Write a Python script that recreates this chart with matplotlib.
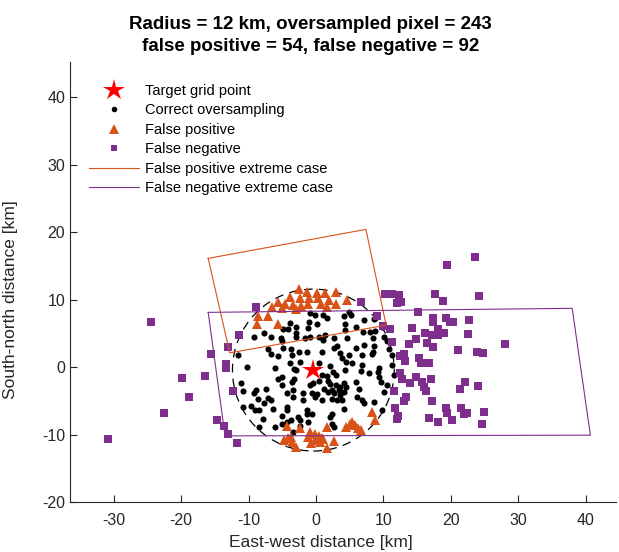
import numpy as np
import matplotlib.pyplot as plt
from matplotlib.patches import Circle
from matplotlib.lines import Line2D

plt.rcParams['font.family'] = ['Liberation Sans', 'DejaVu Sans']
plt.rcParams['axes.unicode_minus'] = False

# target grid point and oversampling radius (km)
target = (-0.4, -0.45)
radius = 12

# correct oversampling points (east, north) in km
correct_pts = [
    (-2.9, 6.0), (-4.15, 5.7), (-1.0, 6.6), (-1.2, 5.8), (-7.7, 5.0), (-9.2, 4.5), (-6.7, 4.4), (-5.2, 4.3),
    (-5.0, 3.9), (-2.9, 4.4), (-1.6, 4.3), (-7.2, 2.6), (-6.7, 2.0), (-5.6, 1.7), (-3.75, 2.6), (-3.5, 1.8),
    (-2.5, 2.3), (-1.3, 2.3), (-11.6, 1.8), (-3.9, 0.6), (-2.4, 0.7), (-10.2, 0.0), (-6.1, -0.2), (-3.2, -0.3),
    (1.1, 7.65), (1.6, 7.25), (4.1, 7.5), (4.9, 8.1), (5.25, 7.75), (4.3, 6.4), (0.15, 6.4), (1.4, 4.8),
    (0.4, 4.5), (2.6, 4.3), (3.1, 3.15), (2.6, 2.8), (4.35, 5.5), (6.0, 6.0), (7.1, 7.0), (8.6, 7.1),
    (8.8, 5.3), (7.1, 3.3), (8.6, 3.1), (9.8, 6.0), (10.05, 4.5), (10.5, 3.8), (10.8, 2.6), (11.2, 1.8),
    (6.8, 1.8), (3.6, 2.1), (3.9, 1.3), (4.9, 1.8), (4.4, 0.8), (5.35, 0.6), (6.8, 0.3), (0.4, 0.6),
    (2.1, 0.1), (9.3, -0.15), (11.2, 0.35),
    (-0.9, 7.95), (-0.15, 7.7), (-3.85, 6.5), (-4.85, 5.7), (-2.9, 5.0), (7.0, 5.2), (8.0, 5.2), (-0.9, 4.5),
    (1.1, 4.0), (4.55, 4.25), (8.5, 4.25), (-4.85, 2.8), (6.0, 2.8), (8.5, 2.3),
    (-2.9, -0.5), (-11.2, -2.4), (-10.8, -3.55), (-8.85, -3.35), (-9.2, -3.85), (-7.4, -3.2), (-8.6, -4.7),
    (-7.1, -4.55), (-6.7, -4.9), (-7.7, -5.3), (-10.8, -5.9), (-9.6, -5.8), (-9.1, -6.4), (-7.9, -7.65),
    (-6.4, -6.2), (-4.25, -3.85), (-3.4, -4.45), (-1.9, -4.9), (-0.9, -2.7), (-5.6, -1.7), (-5.0, -1.5),
    (-3.2, -1.7), (-4.25, -5.9), (-4.35, -6.3), (-2.65, -7.4), (-2.4, -7.9), (-1.4, -6.3), (-5.1, -7.2),
    (-5.1, -8.4), (-3.65, -7.9), (-1.2, -8.15), (-8.4, -8.9), (-6.1, -8.9), (-3.4, -9.6),
    (2.5, -0.75), (2.9, -1.2), (1.8, -2.0), (2.1, -2.5), (4.35, -0.5), (6.6, -0.6), (7.8, -0.9), (9.3, -1.5),
    (9.6, -2.2), (0.4, -2.0), (1.15, -3.2), (2.9, -2.7), (3.4, -3.45), (4.1, -3.7), (4.4, -3.0), (0.15, -3.95),
    (0.9, -4.9), (2.4, -4.7), (3.1, -4.9), (3.6, -4.2), (6.3, -3.2), (6.1, -4.45), (6.8, -4.9), (7.1, -5.4),
    (8.6, -5.2), (10.05, -3.7), (10.55, -2.7), (4.1, -6.2), (9.8, -6.4), (2.4, -8.4), (2.6, -8.9),
    (-3.6, -2.2), (-3.35, -3.4), (-1.9, -3.9), (-0.64, -3.9), (-0.15, -4.4), (-0.4, -2.4), (0.84, -1.2),
    (1.6, -1.4), (2.3, -3.4), (1.8, -3.65), (2.6, -3.9), (3.6, -2.9), (4.1, -2.4), (3.8, -4.9), (6.0, -2.2),
    (9.25, -0.7), (11.5, -1.2), (8.3, 2.0), (0.84, 2.27), (-8.5, -6.4), (-5.1, -2.7), (-4.35, -8.1),
    (-2.4, -8.8), (-0.64, -6.9), (-1.4, -6.9), (2.3, -6.9), (2.1, -7.4),
]

# false positive points
false_pos = [
    (-2.6, 11.5), (-1.3, 11.1), (0.2, 11.0), (1.4, 11.0), (3.0, 11.1), (-3.9, 10.4), (-2.4, 10.3), (-1.0, 10.2),
    (0.3, 10.2), (1.9, 10.0), (4.6, 9.9), (-5.7, 9.7), (-4.6, 9.4), (-3.4, 9.2), (-2.2, 9.0), (-1.2, 9.3),
    (0.8, 9.4), (3.0, 9.3), (-2.9, 8.6), (1.6, 8.9), (-6.6, 8.9), (-5.1, 8.7), (-7.2, 7.6), (-8.6, 7.6),
    (-5.6, 6.4), (-8.8, 6.4),
    (-4.3, -8.8), (-2.4, -9.1), (-0.9, -9.6), (-0.1, -9.9), (0.4, -10.2), (1.7, -8.9), (4.4, -8.9), (5.3, -8.1),
    (5.8, -8.6), (6.2, -9.1), (6.6, -9.3), (8.3, -6.7), (8.8, -7.9), (-4.8, -10.8), (-4.1, -10.5), (-3.6, -11.1),
    (-2.9, -11.8), (-0.7, -11.3), (-0.1, -10.8), (0.6, -11.1), (1.1, -10.7), (1.6, -12.0), (2.6, -10.9),
    (0.2, -10.5), (-3.7, -10.3), (5.0, -8.4), (0.9, -10.5), (-1.2, -10.3),
]

# false negative points
false_neg = [
    (23.6, 16.3), (19.5, 15.1), (10.2, 10.8), (11.2, 10.8), (12.3, 10.7), (12.0, 9.5), (12.6, 9.7), (17.7, 10.8),
    (18.8, 9.8), (24.2, 10.5), (15.2, 8.2), (9.0, 7.5), (17.3, 7.3), (17.4, 6.7), (19.3, 7.3), (19.9, 6.6),
    (20.3, 6.6), (22.75, 6.9), (10.0, 6.1), (11.0, 5.6), (14.3, 5.8), (16.2, 5.1), (17.2, 4.7), (18.1, 5.6),
    (18.1, 4.7), (19.0, 5.1), (22.5, 4.9), (14.8, 4.1), (11.2, 3.75), (13.8, 3.4), (16.5, 3.5), (17.3, 3.0),
    (21.0, 2.5), (23.9, 2.2), (24.7, 2.1), (28.0, 3.4), (13.1, 1.9), (12.4, 1.6), (15.3, 1.4),
    (13.2, 0.9), (15.5, 0.6), (16.8, 0.6), (12.4, -0.84), (12.7, -1.7), (14.9, -1.5), (14.0, -2.4), (15.7, -2.2),
    (16.0, -2.9), (16.3, -3.5), (17.0, -1.7), (22.1, -2.2), (21.4, -3.2), (24.0, -2.8), (11.6, -3.5), (13.35, -4.5),
    (13.1, -5.0), (17.2, -5.1), (11.7, -6.1), (12.1, -7.3), (12.0, -7.7), (16.7, -7.6), (18.1, -8.2), (19.3, -6.1),
    (19.5, -6.8), (20.1, -7.85), (21.5, -6.1), (22.0, -6.9), (22.35, -6.8), (24.9, -6.6), (24.6, -8.4),
    (6.7, 9.7),
    (-24.5, 6.7), (-13.1, 2.9), (-15.6, 2.0), (-13.4, 0.45), (-13.4, -0.2), (-19.9, -1.6), (-16.5, -1.4),
    (-18.9, -4.4), (-22.5, -6.8), (-14.7, -7.85), (-13.6, -8.7), (-13.0, -9.9), (-30.8, -10.6), (-11.7, -11.3),
    (-8.9, 8.9), (-11.4, 4.7), (-12.3, -3.5),
]

# extreme case footprints (corners, closed)
fp_box_x = [-16.0, 7.4, 10.4, -12.8, -16.0]
fp_box_y = [16.1, 20.4, 6.2, 2.1, 16.1]
fn_box_x = [-16.0, 38.0, 40.7, -13.5, -16.0]
fn_box_y = [8.1, 8.7, -10.1, -10.2, 8.1]

orange = '#D95319'
purple = '#7E2F8E'
dark = '#262626'

correct_pts = np.array(correct_pts)
false_pos = np.array(false_pos)
false_neg = np.array(false_neg)

fig = plt.figure(figsize=(6.19, 5.52), dpi=100)
ax = fig.add_axes([70/619, 50/552, 546/619, 440/552])

ax.add_patch(Circle(target, radius, fill=False, ec='k', lw=0.9, ls=(0, (7, 5))))
ax.plot(correct_pts[:, 0], correct_pts[:, 1], 'o', color='k', ms=4.4, mew=0)
ax.plot(false_pos[:, 0], false_pos[:, 1], '^', color=orange, ms=7.5, mew=0)
ax.plot(false_neg[:, 0], false_neg[:, 1], 's', color=purple, ms=5.3, mew=0)
ax.plot(fp_box_x, fp_box_y, color=orange, lw=0.8)
ax.plot(fn_box_x, fn_box_y, color=purple, lw=0.8)
ax.plot(target[0], target[1], '*', color='red', ms=16, mew=0)

handles = [
    Line2D([], [], ls='none', marker='*', color='red', ms=16, mew=0),
    Line2D([], [], ls='none', marker='o', color='k', ms=4.0, mew=0),
    Line2D([], [], ls='none', marker='^', color=orange, ms=6.5, mew=0),
    Line2D([], [], ls='none', marker='s', color=purple, ms=4.8, mew=0),
    Line2D([], [], color=orange, lw=0.8),
    Line2D([], [], color=purple, lw=0.8),
]
labels = ['Target grid point', 'Correct oversampling', 'False positive', 'False negative',
          'False positive extreme case', 'False negative extreme case']
ax.legend(handles, labels, loc='upper left', bbox_to_anchor=(0.025, 0.964), frameon=False,
          fontsize=10.5, handlelength=3.4, handletextpad=0.4, labelspacing=0.38, borderaxespad=0)

ax.set_xlim(-36.5, 44.5)
ax.set_ylim(-20, 45.2)
ax.set_xticks(range(-30, 41, 10))
ax.set_yticks(range(-20, 41, 10))
for s in ['top', 'right']:
    ax.spines[s].set_visible(False)
for s in ['left', 'bottom']:
    ax.spines[s].set_color(dark)
ax.tick_params(direction='in', length=5, labelsize=11.5, colors=dark)
ax.tick_params(axis='x', pad=8)

ax.set_xlabel('East-west distance [km]', fontsize=12.5, color=dark)
ax.set_ylabel('South-north distance [km]', fontsize=12.5, color=dark)
ax.xaxis.set_label_coords(0.46, -0.075)
ax.yaxis.set_label_coords(-0.095, 0.46)
ax.set_title('Radius = 12 km, oversampled pixel = 243\nfalse positive = 54, false negative = 92',
             fontsize=13.5, fontweight='bold', pad=8, linespacing=1.35, x=0.44)

fig.savefig('out.png', dpi=100)
